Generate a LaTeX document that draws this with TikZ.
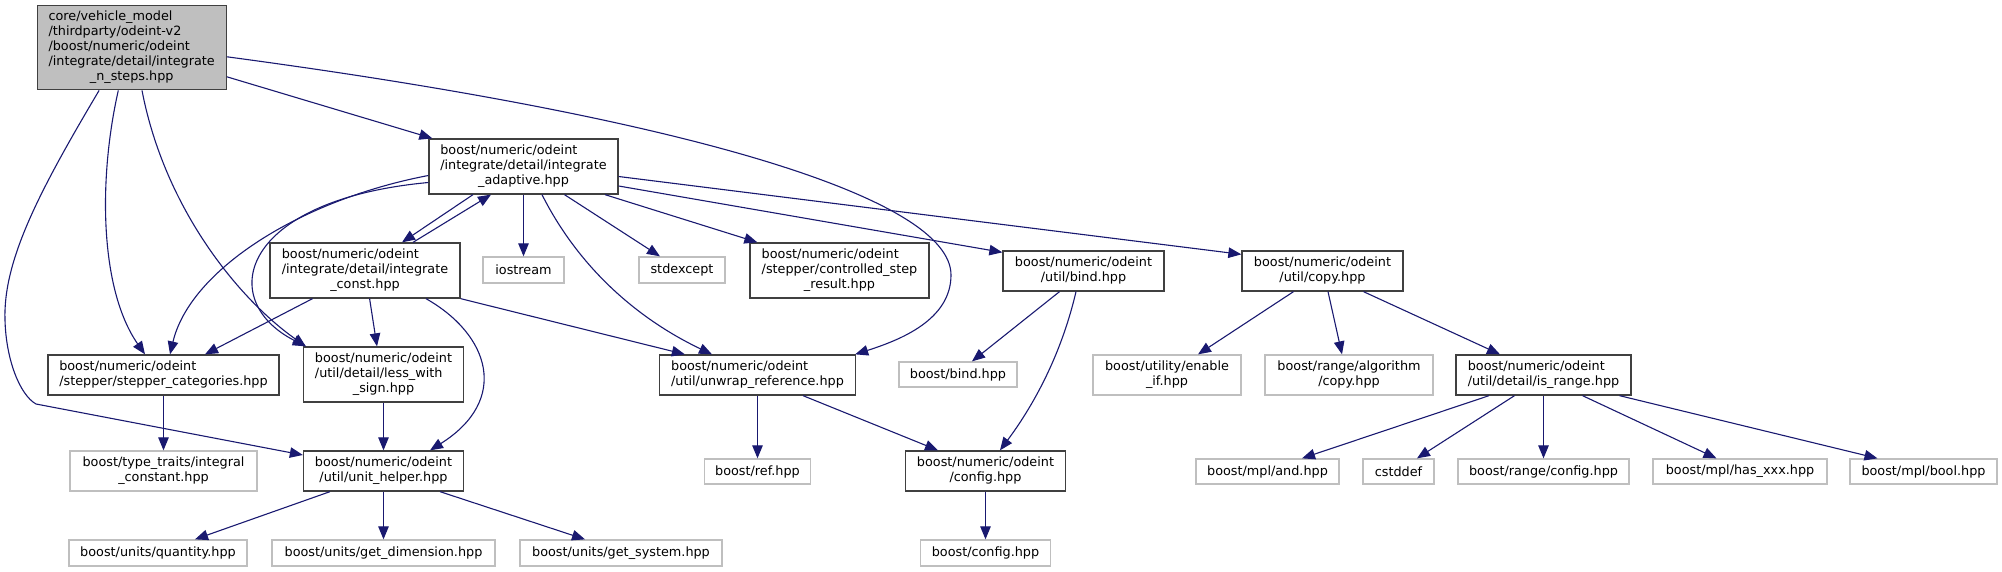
\documentclass[tikz,border=0pt]{standalone}
\usepackage{fontspec}
\setmainfont{DejaVu Sans}
\usetikzlibrary{arrows.meta}
\definecolor{nodegray}{HTML}{BFBFBF}
\definecolor{nodeborder}{HTML}{404040}
\definecolor{edgec}{HTML}{191970}
\newcommand{\mlbl}[1]{\begin{tabular}{@{}l@{}}#1\end{tabular}}
\newcommand{\lastln}[1]{\multicolumn{1}{@{}c@{}}{#1}}
\begin{document}
\begin{tikzpicture}[x=1pt,y=-1pt,
  box/.style={draw=nodeborder, line width=1.3pt, fill=white, inner sep=0pt, text=black,
    font=\fontsize{12.8}{15}\selectfont},
  gbox/.style={box, draw=nodegray},
  edge/.style={draw=edgec, line width=1.1pt, -{Triangle[length=13pt,width=10.5pt]}}]
\useasboundingbox (0,0) rectangle (2002,572);
% rank 0
\node[box, fill=nodegray, minimum width=189pt, minimum height=84pt] (main) at (131.7,47.8)
  {\mlbl{core/vehicle\_model\\/thirdparty/odeint-v2\\/boost/numeric/odeint\\/integrate/detail/integrate\\\lastln{\_n\_steps.hpp}}};
% rank 1
\node[box, minimum width=189pt, minimum height=55pt] (adaptive) at (523.5,166.5)
  {\mlbl{boost/numeric/odeint\\/integrate/detail/integrate\\\lastln{\_adaptive.hpp}}};
% rank 2
\node[box, minimum width=190pt, minimum height=55pt] (iconst) at (365,270.5)
  {\mlbl{boost/numeric/odeint\\/integrate/detail/integrate\\\lastln{\_const.hpp}}};
\node[gbox, minimum width=81pt, minimum height=26pt] (iostream) at (523.5,270) {iostream};
\node[gbox, minimum width=86pt, minimum height=26pt] (stdexcept) at (682,270) {stdexcept};
\node[box, minimum width=179pt, minimum height=55pt] (csr) at (839.5,270.5)
  {\mlbl{boost/numeric/odeint\\/stepper/controlled\_step\\\lastln{\_result.hpp}}};
\node[box, minimum width=161pt, minimum height=40pt] (ubind) at (1083.5,271)
  {\mlbl{boost/numeric/odeint\\\lastln{/util/bind.hpp}}};
\node[box, minimum width=161pt, minimum height=40pt] (ucopy) at (1322.5,271)
  {\mlbl{boost/numeric/odeint\\\lastln{/util/copy.hpp}}};
% rank 3
\node[box, minimum width=231pt, minimum height=40pt] (stepcat) at (163.5,375)
  {\mlbl{boost/numeric/odeint\\\lastln{/stepper/stepper\_categories.hpp}}};
\node[box, minimum width=160pt, minimum height=55pt] (lws) at (383.5,374.5)
  {\mlbl{boost/numeric/odeint\\/util/detail/less\_with\\\lastln{\_sign.hpp}}};
\node[box, minimum width=196pt, minimum height=40pt] (unwrap) at (757.5,375)
  {\mlbl{boost/numeric/odeint\\\lastln{/util/unwrap\_reference.hpp}}};
\node[gbox, minimum width=118pt, minimum height=25pt] (bbind) at (958,374.5) {boost/bind.hpp};
\node[gbox, minimum width=148pt, minimum height=40pt] (enableif) at (1167,375)
  {\mlbl{boost/utility/enable\\\lastln{\_if.hpp}}};
\node[gbox, minimum width=168pt, minimum height=40pt] (racopy) at (1349,375)
  {\mlbl{boost/range/algorithm\\\lastln{/copy.hpp}}};
\node[box, minimum width=175pt, minimum height=40pt] (isrange) at (1543.5,375)
  {\mlbl{boost/numeric/odeint\\\lastln{/util/detail/is\_range.hpp}}};
% rank 4
\node[gbox, minimum width=187pt, minimum height=40pt] (intconst) at (163.5,471)
  {\mlbl{boost/type\_traits/integral\\\lastln{\_constant.hpp}}};
\node[box, minimum width=160pt, minimum height=40pt] (unithelper) at (383.5,471)
  {\mlbl{boost/numeric/odeint\\\lastln{/util/unit\_helper.hpp}}};
\node[gbox, minimum width=106pt, minimum height=25pt] (ref) at (757.5,471.5) {boost/ref.hpp};
\node[box, minimum width=160pt, minimum height=40pt] (oconfig) at (985.5,471)
  {\mlbl{boost/numeric/odeint\\\lastln{/config.hpp}}};
\node[gbox, minimum width=143pt, minimum height=25pt] (mpland) at (1267.5,471.5) {boost/mpl/and.hpp};
\node[gbox, minimum width=71pt, minimum height=25pt] (cstddef) at (1398.5,471.5) {cstddef};
\node[gbox, minimum width=171pt, minimum height=25pt] (rconfig) at (1543.5,471.5) {boost/range/config.hpp};
\node[gbox, minimum width=174pt, minimum height=25pt] (hasxxx) at (1740,471.5) {boost/mpl/has\_xxx.hpp};
\node[gbox, minimum width=147pt, minimum height=25pt] (mplbool) at (1923.5,471.5) {boost/mpl/bool.hpp};
% rank 5
\node[gbox, minimum width=178pt, minimum height=26pt] (quantity) at (158,553) {boost/units/quantity.hpp};
\node[gbox, minimum width=223pt, minimum height=26pt] (getdim) at (383.5,553) {boost/units/get\_dimension.hpp};
\node[gbox, minimum width=202pt, minimum height=26pt] (getsys) at (621,553) {boost/units/get\_system.hpp};
\node[gbox, minimum width=130pt, minimum height=26pt] (bconfig) at (985.5,553) {boost/config.hpp};

% edges from main
\draw[edge] ([yshift=-29pt]main.east) -- ([xshift=4pt]adaptive.north west);
\draw[edge] ([yshift=-9pt]main.east) .. controls (700,120) and (951,200) .. (951,275)
  .. controls (951,320) and (900,340) .. ([xshift=-1pt]unwrap.north east);
\draw[edge] ([xshift=-13.4pt]main.south) .. controls (98,180) and (100,290) .. ([xshift=-18.5pt]stepcat.north);
\draw[edge] ([xshift=10.3pt]main.south) .. controls (165,210) and (240,300) .. ([xshift=3pt]lws.north west);
\draw[edge] ([xshift=-32.6pt]main.south) .. controls (40,190) and (3,260) .. (5,320)
  .. controls (6,360) and (20,395) .. (36,404) -- ([yshift=16pt]unithelper.west);
% edges from adaptive
\draw[edge] ([yshift=-9pt]adaptive.west) .. controls (300,200) and (190,270) .. ([xshift=6.5pt]stepcat.north);
\draw[edge] ([yshift=-16pt]adaptive.west) .. controls (240,200) and (215,300) .. ([xshift=3pt]lws.north west);
\draw[edge] ([xshift=-50.5pt]adaptive.south) -- ([xshift=37pt]iconst.north);
\draw[edge] ([xshift=48pt]iconst.north) -- ([xshift=-32.5pt]adaptive.south);
\draw[edge] (adaptive.south) -- (iostream.north);
\draw[edge] ([xshift=41pt]adaptive.south) -- ([xshift=-22pt]stdexcept.north);
\draw[edge] ([xshift=18.5pt]adaptive.south) .. controls (580,270) and (640,320) .. ([xshift=-45.5pt]unwrap.north);
\draw[edge] ([xshift=81.5pt]adaptive.south) -- ([xshift=8pt]csr.north west);
\draw[edge] ([yshift=-19.5pt]adaptive.east) -- ([yshift=-2pt]ubind.north west);
\draw[edge] ([yshift=-10pt]adaptive.east) -- ([yshift=-4pt]ucopy.north west);
% edges from integrate_const
\draw[edge] ([xshift=-52.5pt]iconst.south) -- ([xshift=41.5pt]stepcat.north);
\draw[edge] ([xshift=4.6pt]iconst.south) -- ([xshift=-6.5pt]lws.north);
\draw[edge] ([xshift=61pt]iconst.south) .. controls (490,335) and (510,400) .. ([xshift=46.5pt]unithelper.north);
\draw[edge] (iconst.south east) -- ([xshift=26pt]unwrap.north west);
% lower edges
\draw[edge] (stepcat.south) -- (intconst.north);
\draw[edge] (lws.south) -- (unithelper.north);
\draw[edge] ([xshift=-53.5pt]unithelper.south) -- ([xshift=37pt]quantity.north);
\draw[edge] (unithelper.south) -- (getdim.north);
\draw[edge] ([xshift=56.5pt]unithelper.south) -- ([xshift=-36pt]getsys.north);
\draw[edge] (unwrap.south) -- (ref.north);
\draw[edge] ([xshift=45.5pt]unwrap.south) -- ([xshift=-47.5pt]oconfig.north);
\draw[edge] ([xshift=-24pt]ubind.south) -- ([xshift=14pt]bbind.north);
\draw[edge] ([xshift=-7.5pt]ubind.south) .. controls (1060,360) and (1030,410) .. ([xshift=14.5pt]oconfig.north);
\draw[edge] (oconfig.south) -- (bconfig.north);
\draw[edge] ([xshift=-29pt]ucopy.south) -- ([xshift=31pt]enableif.north);
\draw[edge] ([xshift=5.5pt]ucopy.south) -- ([xshift=-7pt]racopy.north);
\draw[edge] ([xshift=41pt]ucopy.south) -- ([xshift=-43.5pt]isrange.north);
\draw[edge] ([xshift=-54.5pt]isrange.south) -- ([xshift=34.5pt]mpland.north);
\draw[edge] ([xshift=-29pt]isrange.south) -- ([xshift=18.5pt]cstddef.north);
\draw[edge] (isrange.south) -- (rconfig.north);
\draw[edge] ([xshift=39pt]isrange.south) -- ([xshift=-23.5pt]hasxxx.north);
\draw[edge] ([xshift=76pt]isrange.south) -- ([xshift=-46pt]mplbool.north);
\end{tikzpicture}
\end{document}
